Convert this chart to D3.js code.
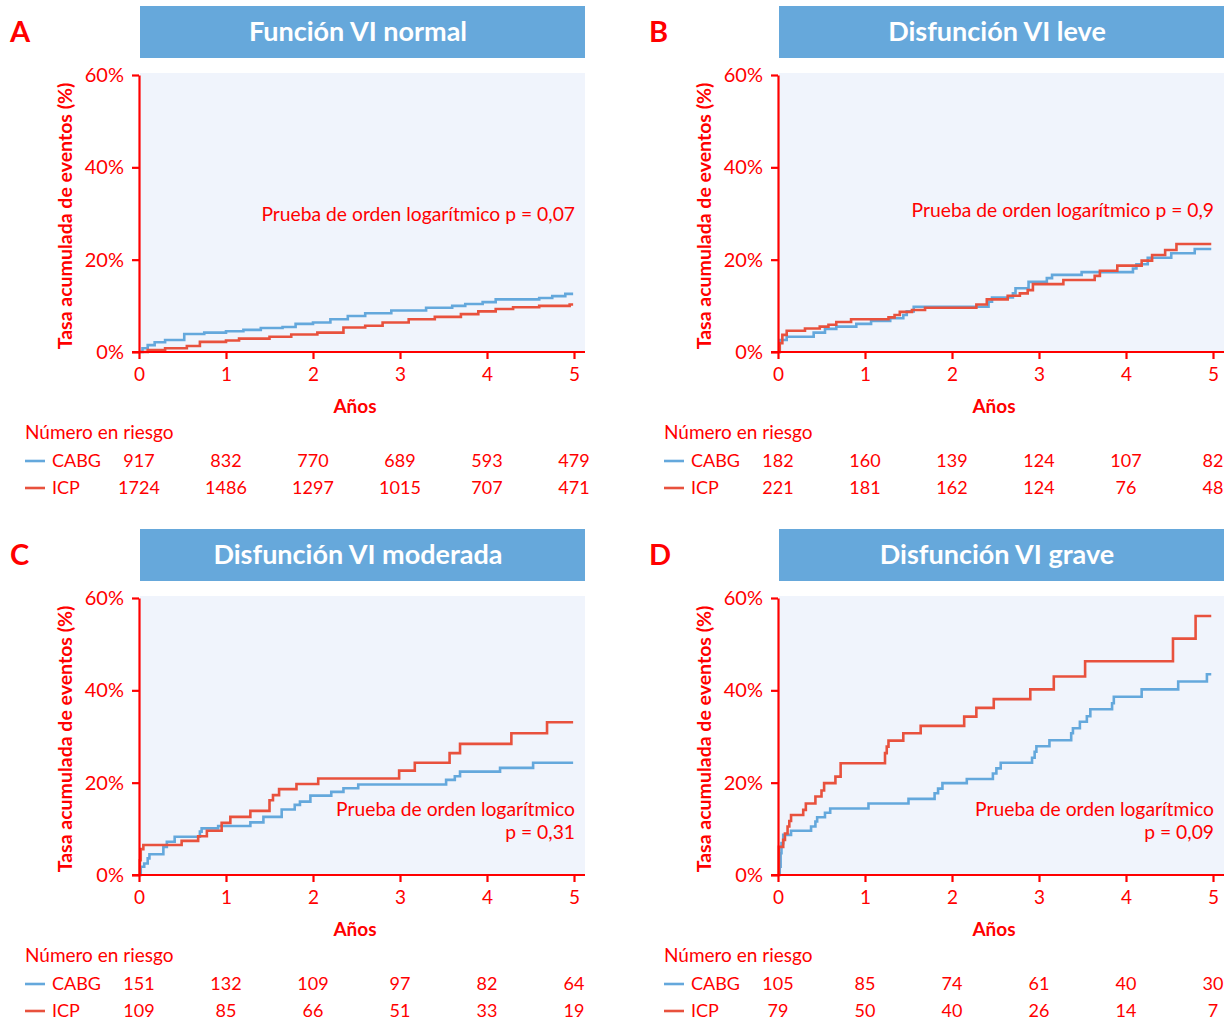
<!DOCTYPE html>
<html>
<head>
<meta charset="utf-8">
<script src="https://cdn.jsdelivr.net/npm/d3@7"></script>
<style>
  body { margin: 0; background: #fff; }
  svg { display: block; font-family: Lato, "Noto Sans", sans-serif; }
</style>
</head>
<body>
<svg></svg>
<script>
const width = 1232;
const height = 1021;

// datos
const years = [0, 1, 2, 3, 4, 5];
const yTicks = [0, 20, 40, 60];

const panelTitles = ["Función VI normal", "Disfunción VI leve", "Disfunción VI moderada", "Disfunción VI grave"];
const panelLetters = ["A", "B", "C", "D"];
const pTexts = [
  ["Prueba de orden logarítmico p = 0,07"],
  ["Prueba de orden logarítmico p = 0,9"],
  ["Prueba de orden logarítmico", "p = 0,31"],
  ["Prueba de orden logarítmico", "p = 0,09"]
];

// curvas [años, %]
const normalCabg = [[0,0],[0.04,0.8],[0.1,1.5],[0.18,2.1],[0.3,2.6],[0.52,3.9],[0.75,4.2],[1.0,4.5],[1.2,4.8],[1.4,5.2],[1.65,5.4],[1.8,6.1],[2.0,6.4],[2.2,7.1],[2.4,7.8],[2.6,8.4],[2.9,9.0],[3.3,9.6],[3.6,10.0],[3.75,10.4],[3.95,10.8],[4.1,11.4],[4.6,11.7],[4.75,12.1],[4.9,12.6],[4.99,12.6]];
const normalIcp = [[0,0],[0.1,0.4],[0.3,0.8],[0.55,1.3],[0.7,2.2],[1.0,2.5],[1.15,2.9],[1.5,3.3],[1.75,3.8],[2.05,4.2],[2.35,5.3],[2.6,5.7],[2.8,6.4],[3.1,7.1],[3.4,7.6],[3.7,8.2],[3.9,8.8],[4.1,9.3],[4.3,9.7],[4.6,10.0],[4.95,10.3],[4.99,10.3]];

const leveCabg = [[0,0],[0.02,2.6],[0.1,3.3],[0.41,4.2],[0.54,5.0],[0.67,5.5],[0.9,6.1],[1.07,6.7],[1.29,7.3],[1.44,8.0],[1.48,8.8],[1.56,9.8],[2.42,10.9],[2.46,11.8],[2.7,12.7],[2.73,13.8],[2.88,15.2],[3.09,16.0],[3.15,16.7],[3.49,17.3],[4.08,18.1],[4.12,19.0],[4.25,20.4],[4.52,21.4],[4.79,22.3],[4.98,22.3]];
const leveIcp = [[0,0],[0.02,1.9],[0.05,3.7],[0.1,4.6],[0.31,5.1],[0.48,5.5],[0.58,5.9],[0.67,6.5],[0.84,7.1],[1.27,7.5],[1.34,8.0],[1.4,8.7],[1.54,9.1],[1.69,9.6],[2.28,10.3],[2.4,11.4],[2.64,12.2],[2.78,12.7],[2.87,13.4],[2.93,14.7],[3.28,15.6],[3.64,16.5],[3.7,17.6],[3.9,18.7],[4.18,19.8],[4.3,21.0],[4.45,22.1],[4.58,23.4],[4.98,23.4]];

const moderadaCabg = [[0,0],[0.02,1.8],[0.06,2.5],[0.1,3.6],[0.12,4.5],[0.28,6.1],[0.32,7.2],[0.41,8.3],[0.7,9.4],[0.72,10.1],[0.91,10.6],[1.28,11.4],[1.43,12.6],[1.64,14.2],[1.79,15.2],[1.85,15.9],[1.97,17.2],[2.21,18.0],[2.35,18.8],[2.52,19.6],[3.53,20.6],[3.63,21.4],[3.69,22.4],[4.15,23.2],[4.53,24.3],[4.99,24.3]];
const moderadaIcp = [[0,0],[0.01,3.2],[0.02,5.6],[0.05,6.5],[0.49,7.4],[0.68,8.4],[0.78,9.6],[0.95,11.3],[1.05,12.6],[1.28,13.9],[1.5,16.2],[1.54,17.3],[1.61,18.6],[1.81,19.7],[2.06,20.9],[2.99,22.6],[3.17,24.3],[3.57,26.4],[3.69,28.4],[4.28,30.7],[4.69,33.1],[4.99,33.1]];

const graveCabg = [[0,0],[0.02,1.8],[0.03,4.7],[0.04,6.9],[0.06,8.7],[0.15,9.6],[0.38,10.5],[0.43,11.6],[0.45,12.5],[0.54,13.5],[0.6,14.4],[1.04,15.5],[1.5,16.5],[1.8,17.7],[1.84,18.7],[1.89,19.9],[2.17,20.8],[2.47,22.0],[2.51,23.1],[2.56,24.3],[2.92,25.4],[2.95,26.7],[2.97,27.9],[3.12,29.2],[3.37,30.7],[3.39,31.8],[3.47,33.2],[3.55,34.4],[3.59,35.9],[3.84,37.2],[3.86,38.6],[4.18,40.2],[4.6,41.9],[4.93,43.5],[4.98,43.5]];
const graveIcp = [[0,0],[0.01,6.1],[0.06,7.6],[0.08,9.0],[0.11,10.5],[0.13,11.7],[0.15,13.0],[0.29,14.1],[0.32,15.5],[0.43,17.0],[0.5,18.3],[0.53,19.9],[0.66,21.3],[0.72,24.2],[1.23,26.4],[1.25,27.8],[1.27,29.1],[1.44,30.7],[1.64,32.3],[2.14,34.3],[2.28,36.2],[2.48,38.1],[2.9,40.2],[3.17,43.0],[3.53,46.3],[4.54,51.2],[4.8,56.1],[4.98,56.1]];

// número en riesgo
const riskCabg = [
  [917, 832, 770, 689, 593, 479],
  [182, 160, 139, 124, 107, 82],
  [151, 132, 109, 97, 82, 64],
  [105, 85, 74, 61, 40, 30]
];
const riskIcp = [
  [1724, 1486, 1297, 1015, 707, 471],
  [221, 181, 162, 124, 76, 48],
  [109, 85, 66, 51, 33, 19],
  [79, 50, 40, 26, 14, 7]
];

const cabgCurves = [normalCabg, leveCabg, moderadaCabg, graveCabg];
const icpCurves = [normalIcp, leveIcp, moderadaIcp, graveIcp];

const red = "#ff0000";
const lineRed = "#e8513d";
const blue = "#64a8dc";
const headerBlue = "#66a8db";

const svg = d3.select("svg")
  .attr("width", width)
  .attr("height", height);

const offsets = [[0, 0], [639, 0], [0, 523], [639, 523]];

offsets.forEach(([dx, dy], i) => {
  const g = svg.append("g").attr("transform", `translate(${dx},${dy})`);

  const x = d3.scaleLinear().domain([0, 5]).range([139, 574]);
  const y = d3.scaleLinear().domain([0, 60]).range([352, 75]);

  // cabecera
  g.append("rect")
    .attr("x", 140).attr("y", 6)
    .attr("width", 445).attr("height", 52)
    .attr("fill", headerBlue);
  g.append("text")
    .attr("x", 358).attr("y", 41)
    .attr("text-anchor", "middle")
    .style("font-size", "27px")
    .style("font-weight", "bold")
    .attr("fill", "#fff")
    .text(panelTitles[i]);

  g.append("text")
    .attr("x", 10).attr("y", 42)
    .style("font-size", "29px")
    .style("font-weight", "bold")
    .attr("fill", red)
    .text(panelLetters[i]);

  // fondo
  g.append("rect")
    .attr("x", 140).attr("y", 73)
    .attr("width", 445).attr("height", 279)
    .attr("fill", "#f0f4fc");

  // curvas
  const line = d3.line()
    .x(d => x(d[0]))
    .y(d => y(d[1]))
    .curve(d3.curveStepAfter);

  g.append("path")
    .datum(cabgCurves[i])
    .attr("d", line)
    .attr("fill", "none")
    .attr("stroke", blue)
    .attr("stroke-width", 2.6);

  g.append("path")
    .datum(icpCurves[i])
    .attr("d", line)
    .attr("fill", "none")
    .attr("stroke", lineRed)
    .attr("stroke-width", 2.6);

  // Eje Y
  const yAxis = g.append("g")
    .attr("transform", "translate(139,0)")
    .call(d3.axisLeft(y).tickValues(yTicks).tickFormat(d => d + "%").tickSize(7).tickSizeOuter(0).tickPadding(8));
  yAxis.select(".domain").attr("stroke", red).attr("stroke-width", 2.2);
  yAxis.selectAll(".tick line").attr("stroke", red).attr("stroke-width", 2.2);
  yAxis.selectAll(".tick text")
    .attr("fill", red)
    .style("font-size", "20px")
    .style("font-family", "Lato, sans-serif");

  // Eje X
  const xAxis = g.append("g")
    .attr("transform", "translate(0,352)")
    .call(d3.axisBottom(x).tickValues(years).tickFormat(d3.format("d")).tickSize(7).tickSizeOuter(0).tickPadding(9));
  xAxis.select(".domain").remove();
  xAxis.append("line")
    .attr("x1", 132).attr("x2", 585)
    .attr("stroke", red).attr("stroke-width", 2.2);
  xAxis.selectAll(".tick line").attr("stroke", red).attr("stroke-width", 2.2);
  xAxis.selectAll(".tick text")
    .attr("fill", red)
    .style("font-size", "19px")
    .style("font-family", "Lato, sans-serif");

  // Etiquetas
  g.append("text")
    .attr("x", 355).attr("y", 413)
    .attr("text-anchor", "middle")
    .style("font-size", "19px")
    .style("font-weight", "bold")
    .attr("fill", red)
    .text("Años");

  g.append("text")
    .attr("transform", "translate(72,216) rotate(-90)")
    .attr("text-anchor", "middle")
    .style("font-size", "19.5px")
    .style("font-weight", "bold")
    .attr("fill", red)
    .text("Tasa acumulada de eventos (%)");

  // prueba
  const pLines = pTexts[i];
  const pY = pLines.length === 1 ? (i === 0 ? 221 : 217) : 293;
  pLines.forEach((t, k) => {
    g.append("text")
      .attr("x", 575).attr("y", pY + k * 23)
      .attr("text-anchor", "end")
      .style("font-size", "19.3px")
      .attr("fill", red)
      .text(t);
  });

  // número en riesgo
  g.append("text")
    .attr("x", 25).attr("y", 439)
    .style("font-size", "19px")
    .attr("fill", red)
    .text("Número en riesgo");

  const rows = [["CABG", blue, riskCabg[i]], ["ICP", lineRed, riskIcp[i]]];
  rows.forEach(([label, col, vals], r) => {
    const by = 467 + r * 27;
    g.append("line")
      .attr("x1", 25).attr("x2", 45)
      .attr("y1", by - 6).attr("y2", by - 6)
      .attr("stroke", col).attr("stroke-width", 2.6);
    g.append("text")
      .attr("x", 52).attr("y", by)
      .style("font-size", "18px")
      .attr("fill", red)
      .text(label);
    g.selectAll(null)
      .data(vals)
      .join("text")
      .attr("x", (d, k) => x(years[k]))
      .attr("y", by)
      .attr("text-anchor", "middle")
      .style("font-size", "18px")
      .attr("fill", red)
      .text(d => d);
  });
});
</script>
</body>
</html>
